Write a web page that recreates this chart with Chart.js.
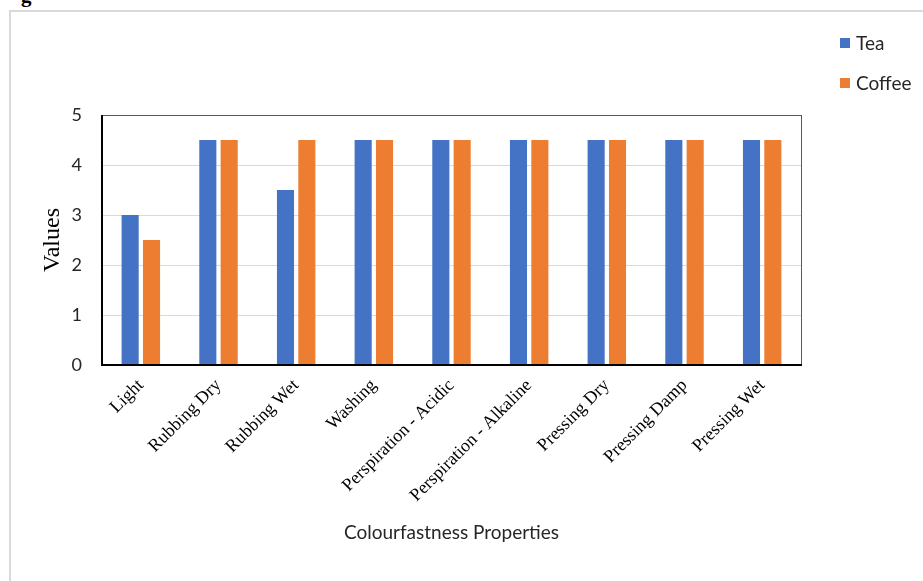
<!DOCTYPE html>
<html>
<head>
<meta charset="utf-8">
<script src="https://cdn.jsdelivr.net/npm/chart.js@4"></script>
<style>
  body { margin: 0; background: #fff; }
  #frame { position: absolute; left: 9px; top: 10px; width: 930px; height: 590px; border: 2px solid #d9d9d9; box-sizing: border-box; }
  #cut { position: absolute; left: 21px; top: -17px; font: bold 21px "Liberation Serif"; color: #000; }
  #wrap { position: absolute; left: 0; top: 0; width: 923px; height: 581px; }
</style>
</head>
<body>
<div id="cut">g</div>
<div id="frame"></div>
<div id="wrap"><canvas id="chart"></canvas></div>
<script>
const categories = ['Light','Rubbing Dry','Rubbing Wet','Washing','Perspiration - Acidic','Perspiration - Alkaline','Pressing Dry','Pressing Damp','Pressing Wet'];
const tea = [3, 4.5, 3.5, 4.5, 4.5, 4.5, 4.5, 4.5, 4.5];
const coffee = [2.5, 4.5, 4.5, 4.5, 4.5, 4.5, 4.5, 4.5, 4.5];
const yTicks = [0, 1, 2, 3, 4, 5];

// box round the plot area
const plotBox = {
    id: 'plotBox',
    afterDraw(chart) {
        const a = chart.chartArea, c = chart.ctx;
        c.save();
        c.strokeStyle = '#595959';
        c.lineWidth = 1;
        c.strokeRect(a.left + 0.5, a.top + 0.5, a.right - a.left, a.bottom - a.top);
        c.strokeStyle = '#000';
        c.lineWidth = 2;
        c.beginPath();
        c.moveTo(a.left, a.top);
        c.lineTo(a.left, a.bottom);
        c.lineTo(a.right + 1, a.bottom);
        c.stroke();
        c.restore();
    }
};

// legend stacked top right
const sideLegend = {
    id: 'sideLegend',
    afterDraw(chart) {
        const c = chart.ctx;
        c.save();
        c.font = '19px Lato';
        c.textBaseline = 'middle';
        chart.data.datasets.forEach((ds, i) => {
            const y = 43 + i * 40;
            c.fillStyle = ds.backgroundColor;
            c.fillRect(840, y - 5, 10, 10);
            c.fillStyle = '#262626';
            c.fillText(ds.label, 856, y + 1);
        });
        c.restore();
    }
};

new Chart(document.getElementById('chart'), {
    type: 'bar',
    data: {
        labels: categories,
        datasets: [
            { label: 'Tea', data: tea, backgroundColor: '#4472c4' },
            { label: 'Coffee', data: coffee, backgroundColor: '#ed7d31' }
        ]
    },
    options: {
        responsive: true,
        maintainAspectRatio: false,
        animation: false,
        layout: { padding: { top: 115, right: 122, left: 0, bottom: 0 } },
        datasets: { bar: { categoryPercentage: 0.55, barPercentage: 0.8 } },
        plugins: {
            legend: { display: false },
            tooltip: { enabled: false }
        },
        scales: {
            x: {
                grid: { display: false },
                border: { display: false },
                afterFit(s) { s.height = 216; },
                ticks: {
                    color: '#000',
                    font: { family: 'Liberation Serif', size: 18 },
                    minRotation: 45,
                    maxRotation: 45,
                    padding: 2
                },
                title: {
                    display: true,
                    text: 'Colourfastness Properties',
                    color: '#262626',
                    font: { family: 'Lato', size: 19 },
                    padding: { top: 0, bottom: 37 }
                }
            },
            y: {
                min: 0,
                max: 5,
                afterFit(s) { s.width = 102; },
                afterBuildTicks(s) { s.ticks = yTicks.map(v => ({ value: v })); },
                grid: { color: '#d9d9d9', drawTicks: false },
                border: { display: false },
                ticks: {
                    color: '#262626',
                    font: { family: 'Lato', size: 18 },
                    padding: 20
                },
                title: {
                    display: true,
                    text: 'Values',
                    color: '#000',
                    font: { family: 'Liberation Serif', size: 24 },
                    padding: { top: 38, bottom: 0 }
                }
            }
        }
    },
    plugins: [plotBox, sideLegend]
});
</script>
</body>
</html>
